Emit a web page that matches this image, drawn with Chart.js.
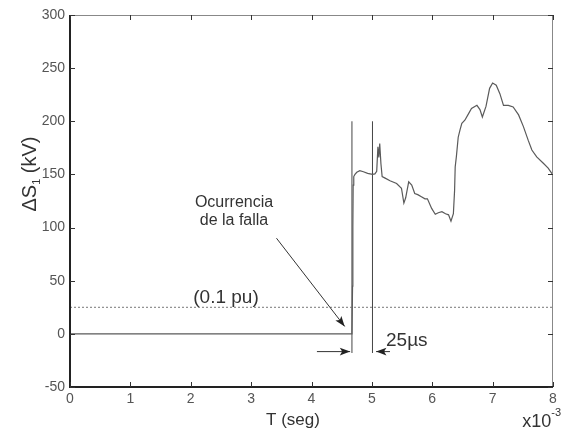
<!DOCTYPE html>
<html>
<head>
<meta charset="utf-8">
<script src="https://cdn.jsdelivr.net/npm/chart.js@4"></script>
<style>
    body { margin: 0; background: #fff; }
    canvas { display: block; }
</style>
</head>
<body>
<canvas id="sChart" width="563" height="431"></canvas>
<script>
'use strict'

// time axis in units of 1e-3 s, voltage in kV
var tMs = [0, 4.67, 4.68, 4.685, 4.69, 4.70, 4.72, 4.75, 4.80, 4.86,
    4.93, 5.01, 5.05, 5.08, 5.10, 5.115, 5.13, 5.15, 5.17, 5.22,
    5.30, 5.41, 5.49, 5.53, 5.56, 5.58, 5.61, 5.66, 5.71, 5.76,
    5.82, 5.88, 5.92, 5.99, 6.05, 6.10, 6.16, 6.22, 6.27, 6.31,
    6.35, 6.37, 6.38, 6.40, 6.43, 6.46, 6.49, 6.54, 6.59, 6.65,
    6.74, 6.79, 6.83, 6.89, 6.95, 7.00, 7.06, 7.12, 7.18, 7.26,
    7.34, 7.43, 7.51, 7.59, 7.65, 7.73, 7.84, 7.92, 7.98, 8.00];
var dS1 = [0, 0, 45, 100, 140, 148, 150, 152, 153.5, 152.5,
    151, 150, 150.5, 153, 176, 166, 179, 160, 148, 146.5,
    144, 141.5, 137, 123, 128, 134, 143, 140, 132, 131,
    129, 127, 127, 118, 112.5, 114, 115, 113, 112, 106,
    113, 135, 157, 167, 185, 192, 198, 201, 206, 212,
    215, 211, 204, 214, 231, 236, 234, 226, 215, 215,
    213.5, 206, 195, 182, 173, 166.5, 160.5, 156, 151, 151];

var thresholdKV = 25;          // (0.1 pu)
var markerT = [4.67, 5.01];    // fault instant and +25us
var markerSpan = [-18, 200];

var tRange = [0, 8];
var vRange = [-50, 300];

function pts(xs, ys) {
    return xs.map(function (x, i) { return { x: x, y: ys[i] }; });
}

var FONT = "'Liberation Sans', Arial, sans-serif";

var matlabBox = {
    id: 'matlabBox',
    afterDraw: function (chart) {
        var ctx = chart.ctx;
        var a = chart.chartArea;
        var xs = chart.scales.x, ys = chart.scales.y;
        ctx.save();

        // frame
        ctx.strokeStyle = '#888';
        ctx.lineWidth = 1;
        ctx.beginPath();
        ctx.moveTo(a.left, a.top + 0.5);
        ctx.lineTo(a.right - 0.5, a.top + 0.5);
        ctx.lineTo(a.right - 0.5, a.bottom);
        ctx.stroke();
        ctx.strokeStyle = '#222';
        ctx.lineWidth = 2;
        ctx.beginPath();
        ctx.moveTo(a.left, a.top);
        ctx.lineTo(a.left, a.bottom);
        ctx.lineTo(a.right, a.bottom);
        ctx.stroke();

        // inward ticks
        ctx.strokeStyle = '#333';
        ctx.lineWidth = 1;
        ctx.beginPath();
        xs.ticks.forEach(function (t) {
            var px = Math.round(xs.getPixelForValue(t.value)) + 0.5;
            ctx.moveTo(px, a.bottom); ctx.lineTo(px, a.bottom - 5);
            ctx.moveTo(px, a.top); ctx.lineTo(px, a.top + 5);
        });
        ys.ticks.forEach(function (t) {
            var py = Math.round(ys.getPixelForValue(t.value)) + 0.5;
            ctx.moveTo(a.left, py); ctx.lineTo(a.left + 5, py);
            ctx.moveTo(a.right, py); ctx.lineTo(a.right - 5, py);
        });
        ctx.stroke();

        // arrows
        function arrow(x0, y0, x1, y1) {
            var p0x = xs.getPixelForValue(x0), p0y = ys.getPixelForValue(y0);
            var p1x = xs.getPixelForValue(x1), p1y = ys.getPixelForValue(y1);
            var ang = Math.atan2(p1y - p0y, p1x - p0x);
            ctx.strokeStyle = '#333';
            ctx.fillStyle = '#222';
            ctx.lineWidth = 1;
            ctx.beginPath();
            ctx.moveTo(p0x, p0y);
            ctx.lineTo(p1x, p1y);
            ctx.stroke();
            ctx.beginPath();
            ctx.moveTo(p1x, p1y);
            ctx.lineTo(p1x - 11 * Math.cos(ang - 0.35), p1y - 11 * Math.sin(ang - 0.35));
            ctx.lineTo(p1x - 8 * Math.cos(ang), p1y - 8 * Math.sin(ang));
            ctx.lineTo(p1x - 11 * Math.cos(ang + 0.35), p1y - 11 * Math.sin(ang + 0.35));
            ctx.closePath();
            ctx.fill();
        }
        arrow(3.42, 90, 4.55, 7);
        arrow(4.09, -16.7, 4.64, -16.7);
        arrow(5.30, -16.7, 5.07, -16.7);

        // texts
        ctx.fillStyle = '#333';
        ctx.textBaseline = 'middle';
        ctx.textAlign = 'center';
        ctx.font = '16px ' + FONT;
        ctx.fillText('Ocurrencia', 234, 203);
        ctx.fillText('de la falla', 234, 221);
        ctx.font = '19px ' + FONT;
        ctx.fillText('(0.1 pu)', 226, 298);
        ctx.textAlign = 'left';
        ctx.fillText('25\u00b5s', 386, 341);

        // axis titles
        ctx.fillStyle = '#333';
        ctx.textAlign = 'center';
        ctx.font = '17px ' + FONT;
        ctx.fillText('T (seg)', 293, 420);

        ctx.textAlign = 'left';
        ctx.font = '18px ' + FONT;
        var w1 = ctx.measureText('x10').width;
        ctx.font = '11px ' + FONT;
        var w2 = ctx.measureText('-3').width;
        var sx = 561 - w1 - w2;
        ctx.font = '18px ' + FONT;
        ctx.fillText('x10', sx, 422);
        ctx.font = '11px ' + FONT;
        ctx.fillText('-3', sx + w1, 413);

        // rotated y title: ΔS1 (kV)
        ctx.translate(30, 174);
        ctx.rotate(-Math.PI / 2);
        ctx.font = '20px ' + FONT;
        var pA = '\u0394S', pB = '1', pC = ' (kV)';
        var wa = ctx.measureText(pA).width;
        var wc = ctx.measureText(pC).width;
        ctx.font = '11px ' + FONT;
        var wb = ctx.measureText(pB).width;
        var x0 = -(wa + wb + wc) / 2;
        ctx.font = '20px ' + FONT;
        ctx.fillText(pA, x0, 0);
        ctx.font = '11px ' + FONT;
        ctx.fillText(pB, x0 + wa, 7);
        ctx.font = '20px ' + FONT;
        ctx.fillText(pC, x0 + wa + wb, 0);

        ctx.restore();
    }
};

var ctx = document.getElementById('sChart').getContext('2d');
var sChart = new Chart(ctx, {
    type: 'scatter',
    data: {
        datasets: [{
            label: 'dS1',
            data: pts(tMs, dS1),
            showLine: true,
            borderColor: '#5a5a5a',
            borderWidth: 1.2,
            pointRadius: 0,
            tension: 0,
        }, {
            label: '0.1 pu',
            data: pts(tRange, [thresholdKV, thresholdKV]),
            showLine: true,
            borderColor: '#777',
            borderWidth: 1,
            borderDash: [2, 2],
            pointRadius: 0,
        }, {
            label: 'fault',
            data: pts([markerT[0], markerT[0]], markerSpan),
            showLine: true,
            borderColor: '#444',
            borderWidth: 1,
            pointRadius: 0,
        }, {
            label: '25us',
            data: pts([markerT[1], markerT[1]], markerSpan),
            showLine: true,
            borderColor: '#444',
            borderWidth: 1,
            pointRadius: 0,
        }]
    },
    options: {
        responsive: false,
        animation: false,
        layout: {
            padding: { top: 15, right: 10, left: 0, bottom: 0 }
        },
        plugins: {
            legend: { display: false },
            tooltip: { enabled: false },
        },
        scales: {
            x: {
                type: 'linear',
                min: tRange[0],
                max: tRange[1],
                afterFit: function (scale) { scale.height = 44; },
                grid: { display: false, drawTicks: false },
                border: { display: false },
                ticks: {
                    stepSize: 1,
                    padding: 4,
                    color: '#555',
                    font: { family: FONT, size: 14 },
                }
            },
            y: {
                type: 'linear',
                min: vRange[0],
                max: vRange[1],
                afterFit: function (scale) { scale.width = 70; },
                grid: { display: false, drawTicks: false },
                border: { display: false },
                ticks: {
                    stepSize: 50,
                    padding: 5,
                    color: '#555',
                    font: { family: FONT, size: 14 },
                }
            }
        }
    },
    plugins: [matlabBox]
});
</script>
</body>
</html>
